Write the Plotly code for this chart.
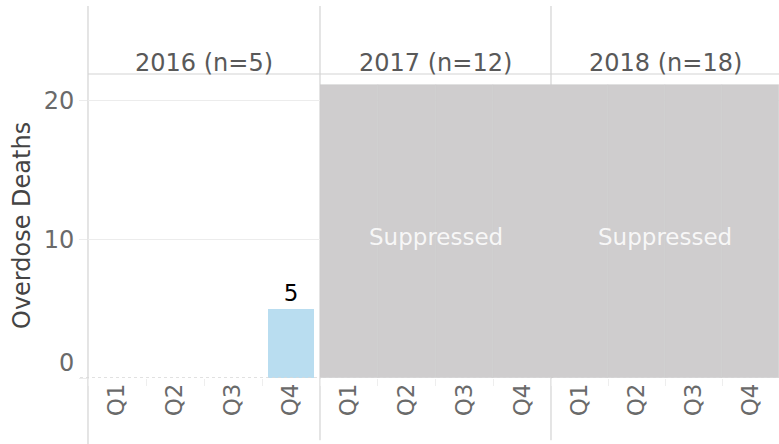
import plotly.graph_objects as go
from plotly.subplots import make_subplots

years = ["2016", "2017", "2018"]
year_totals = [5, 12, 18]
quarters = ["Q1", "Q2", "Q3", "Q4"]
deaths_2016 = [0, 0, 0, 5]
suppressed_years = ["2017", "2018"]
suppressed_height = 21.1
y_max = 21.9
y_tickvals = [0, 10, 20]
y_ticktext = ["0<br> ", "10", "20"]

FONT = "DejaVu Sans"
GRID = "#ececec"
LINE = "#d3d3d3"
BLUE = "#b9ddf0"
GRAY = "#cfcdce"

fig = make_subplots(rows=1, cols=3, shared_yaxes=True, horizontal_spacing=0)

fig.add_trace(go.Bar(x=quarters, y=deaths_2016, marker=dict(color=BLUE, line=dict(width=0)),
                     width=0.78, text=[str(v) if v > 0 else "" for v in deaths_2016],
                     textposition="outside", cliponaxis=False,
                     textfont=dict(family=FONT, size=23, color="#000000"),
                     hoverinfo="x+y", showlegend=False), row=1, col=1)

domains = [[0, 232 / 691], [232 / 691, 463 / 691], [463 / 691, 1]]

for i, yr in enumerate(years):
    if yr in suppressed_years:
        col = i + 1
        fig.add_trace(go.Bar(x=quarters, y=[suppressed_height] * len(quarters), width=1,
                             marker=dict(color=GRAY, line=dict(width=0.6, color=GRAY)),
                             hoverinfo="skip", showlegend=False), row=1, col=col)
        fig.add_annotation(x=0.5, y=suppressed_height / 2, xref=f"x{col} domain", yref="y",
                           xanchor="center", yanchor="middle", yshift=-5,
                           text="Suppressed", showarrow=False,
                           font=dict(family=FONT, size=23, color="rgba(255,255,255,0.85)"))
        if i > 1 and years[i - 1] in suppressed_years:
            fig.add_shape(type="line", xref="paper", yref="y", x0=domains[i][0], x1=domains[i][0],
                          y0=0, y1=suppressed_height, line=dict(color=GRAY, width=4), layer="above")

for i in range(3):
    key = "xaxis" if i == 0 else f"xaxis{i + 1}"
    fig.layout[key].update(domain=domains[i], type="category", tickangle=-90,
                           tickfont=dict(family=FONT, size=23, color="#6a6a6a"),
                           showgrid=False, tickson="boundaries", ticks="outside",
                           ticklen=7, tickcolor="#eeeeee", showline=False, zeroline=False,
                           range=[-0.5, 3.5], fixedrange=True, automargin=False)
    cx = (domains[i][0] + domains[i][1]) / 2
    fig.add_annotation(x=cx, y=(378 - 63) / 304, xref="paper", yref="paper",
                       text=f"{years[i]} (n={year_totals[i]})", showarrow=False,
                       xanchor="center", yanchor="middle",
                       font=dict(family=FONT, size=24, color="#595959"))

fig.update_yaxes(range=[0, y_max], tickvals=y_tickvals, showgrid=True, gridcolor=GRID,
                 gridwidth=1, zeroline=False, ticks="", fixedrange=True,
                 automargin=False, showticklabels=False)
fig.update_yaxes(ticks="outside", ticklen=8, tickcolor=GRID, showticklabels=True,
                 ticktext=y_ticktext,
                 tickfont=dict(family=FONT, size=24, color="#6a6a6a"), row=1, col=1)
fig.add_annotation(x=(22 - 88) / 691, y=0.5, xref="paper", yref="paper", textangle=-90,
                   xanchor="center", yanchor="middle",
                   text="Overdose Deaths", showarrow=False,
                   font=dict(family=FONT, size=24, color="#444444"))

fig.add_shape(type="line", xref="paper", yref="y", x0=-8 / 691, x1=1, y0=0, y1=0,
              line=dict(color="#d8d8d8", width=1.5, dash="dot"), layer="above")
fig.add_shape(type="line", xref="paper", yref="paper", x0=0, x1=1, y0=1, y1=1,
              line=dict(color=LINE, width=1.2))
for i, d in enumerate(domains):
    fig.add_shape(type="line", xref="paper", yref="paper", x0=d[0], x1=d[0],
                  y0=-0.22 if i == 0 else -0.205, y1=1.224,
                  line=dict(color=LINE, width=1.2), layer="below")

fig.update_layout(width=779, height=444, margin=dict(l=88, r=0, t=74, b=66, autoexpand=False),
                  plot_bgcolor="white", paper_bgcolor="white", bargap=0,
                  font=dict(family=FONT), showlegend=False)

fig.write_html("out.html", config={"displayModeBar": False},
               post_script="document.body.style.margin='0';document.body.style.padding='0';")
